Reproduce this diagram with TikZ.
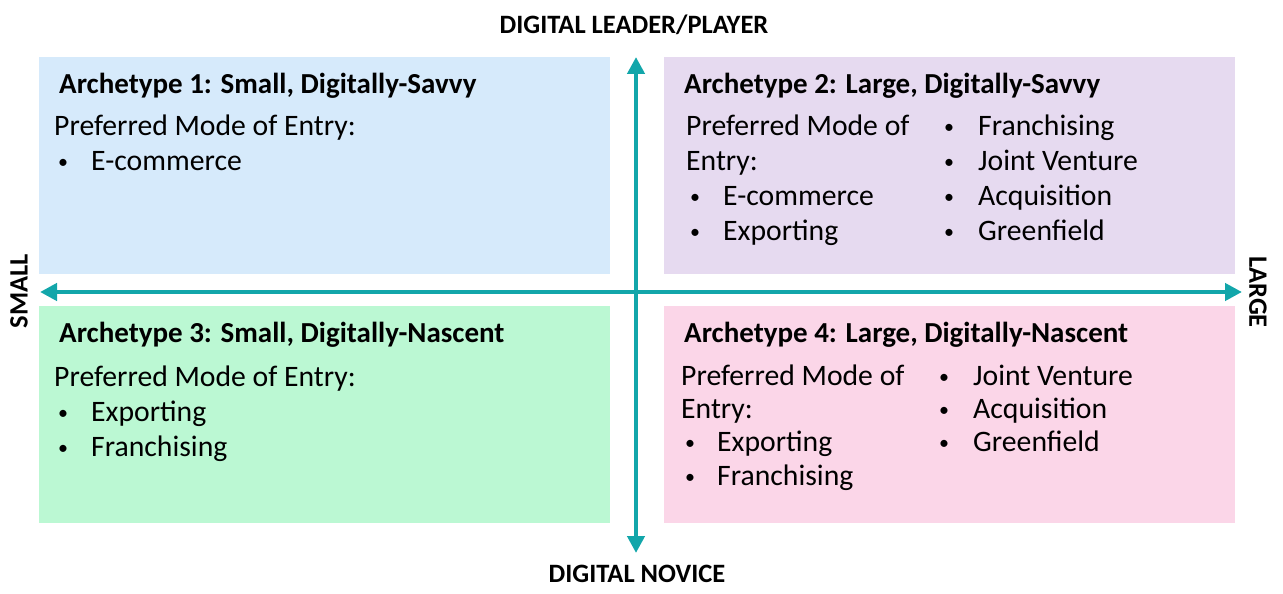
\documentclass[tikz,border=0pt]{standalone}
\usepackage{fontspec}
\setmainfont{Carlito}
\usetikzlibrary{arrows.meta}
\definecolor{bxblue}{RGB}{214,234,251}
\definecolor{bxlav}{RGB}{230,218,240}
\definecolor{bxgreen}{RGB}{187,248,211}
\definecolor{bxpink}{RGB}{251,214,232}
\definecolor{axteal}{RGB}{18,166,170}
\begin{document}
\begin{tikzpicture}[x=1pt,y=-1pt,
  ttl/.style={anchor=base west,inner sep=0pt,font=\fontsize{29}{32}\selectfont\bfseries},
  body/.style={anchor=base west,inner sep=0pt,font=\fontsize{29.7}{32}\selectfont},
  bul/.style={anchor=base west,inner sep=0pt,font=\fontsize{20}{24}\selectfont},
  axlab/.style={inner sep=0pt,font=\fontsize{26.5}{28}\selectfont\bfseries},
  axis/.style={draw=axteal,line width=4.5pt,-{Triangle[length=17pt,width=17pt]}}]
\useasboundingbox (0,0) rectangle (1283,594);
% boxes
\fill[bxblue] (39,57) rectangle (610,274);
\fill[bxlav] (664,57) rectangle (1235,274);
\fill[bxgreen] (39,306) rectangle (610,523);
\fill[bxpink] (664,306) rectangle (1235,523);
% axes
\coordinate (top) at (636,57);
\coordinate (bot) at (636,553);
\coordinate (lft) at (40,292);
\coordinate (rgt) at (1242,292);
\coordinate (c) at (636,292);
\draw[axis] (c) -- (top);
\draw[axis] (c) -- (bot);
\draw[axis] (c) -- (lft);
\draw[axis] (c) -- (rgt);
% axis labels
\node[axlab,anchor=base] (lead) at (634,34) {DIGITAL LEADER/PLAYER};
\node[axlab,anchor=base] (nov) at (637,582) {DIGITAL NOVICE};
\node[axlab,rotate=90] (small) at (19,291) {SMALL};
\node[axlab,rotate=-90] (large) at (1258,292) {LARGE};
% box 1
\node[ttl] (t1) at (59,93) {Archetype 1: Small, Digitally-Savvy};
\node[body] (p1) at (54,135) {Preferred Mode of Entry:};
\node[bul] (b1a) at (58,168) {•};
\node[body] (e1a) at (91,170) {E-commerce};
% box 2
\node[ttl] (t2) at (684,93) {Archetype 2: Large, Digitally-Savvy};
\node[body] (p2) at (686,135) {Preferred Mode of};
\node[body] (p2b) at (686,170) {Entry:};
\node[bul] (b2a) at (690,203) {•};
\node[body] (e2a) at (723,205) {E-commerce};
\node[bul] (b2b) at (690,238) {•};
\node[body] (e2b) at (723,240) {Exporting};
\node[bul] (b2c) at (944,133) {•};
\node[body] (e2c) at (978,135) {Franchising};
\node[bul] (b2d) at (944,168) {•};
\node[body] (e2d) at (978,170) {Joint Venture};
\node[bul] (b2e) at (944,203) {•};
\node[body] (e2e) at (978,205) {Acquisition};
\node[bul] (b2f) at (944,238) {•};
\node[body] (e2f) at (978,240) {Greenfield};
% box 3
\node[ttl] (t3) at (59,342) {Archetype 3: Small, Digitally-Nascent};
\node[body] (p3) at (54,386) {Preferred Mode of Entry:};
\node[bul] (b3a) at (58,419) {•};
\node[body] (e3a) at (91,421) {Exporting};
\node[bul] (b3b) at (58,454) {•};
\node[body] (e3b) at (91,456) {Franchising};
% box 4
\node[ttl] (t4) at (684,342) {Archetype 4: Large, Digitally-Nascent};
\node[body] (p4) at (681,385) {Preferred Mode of};
\node[body] (p4b) at (681,418) {Entry:};
\node[bul] (b4a) at (685,449) {•};
\node[body] (e4a) at (717,451) {Exporting};
\node[bul] (b4b) at (685,483) {•};
\node[body] (e4b) at (717,485) {Franchising};
\node[bul] (b4c) at (939,383) {•};
\node[body] (e4c) at (973,385) {Joint Venture};
\node[bul] (b4d) at (939,416) {•};
\node[body] (e4d) at (973,418) {Acquisition};
\node[bul] (b4e) at (939,449) {•};
\node[body] (e4e) at (973,451) {Greenfield};
\end{tikzpicture}
\end{document}
